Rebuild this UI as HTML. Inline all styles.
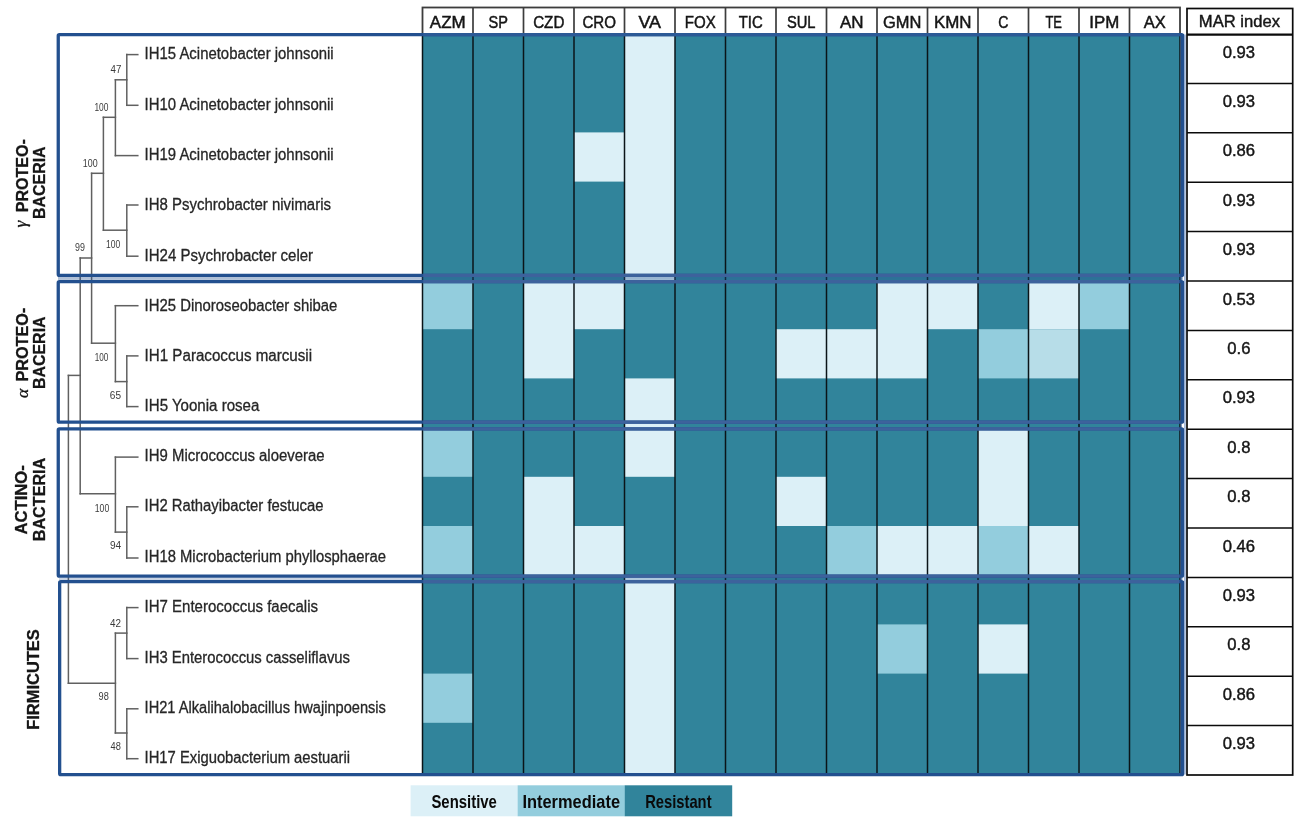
<!DOCTYPE html>
<html lang="en"><head><meta charset="utf-8"><title>Antibiotic resistance heatmap</title>
<style>html,body{margin:0;padding:0;background:#fff}body{width:1299px;height:820px;overflow:hidden;font-family:"Liberation Sans",Arial,sans-serif}</style>
</head><body>
<svg width="1299" height="820" viewBox="0 0 1299 820" style="display:block" font-family="'Liberation Sans', Arial, sans-serif">
<rect width="1299" height="820" fill="#fff"/>
<defs><filter id="soft" x="-2%" y="-2%" width="104%" height="104%"><feGaussianBlur stdDeviation="0.4"/></filter></defs>
<rect x="422.5" y="34.0" width="757.5" height="740.5" fill="#31849b"/>
<rect x="422.50" y="280.00" width="50.5" height="49.20" fill="#93cddd"/>
<rect x="422.50" y="427.60" width="50.5" height="49.20" fill="#93cddd"/>
<rect x="422.50" y="526.00" width="50.5" height="49.20" fill="#93cddd"/>
<rect x="422.50" y="673.60" width="50.5" height="49.20" fill="#93cddd"/>
<rect x="523.50" y="280.00" width="50.5" height="98.40" fill="#dcf0f7"/>
<rect x="523.50" y="476.80" width="50.5" height="98.40" fill="#dcf0f7"/>
<rect x="574.00" y="132.40" width="50.5" height="49.20" fill="#dcf0f7"/>
<rect x="574.00" y="280.00" width="50.5" height="49.20" fill="#dcf0f7"/>
<rect x="574.00" y="526.00" width="50.5" height="49.20" fill="#dcf0f7"/>
<rect x="624.50" y="34.00" width="50.5" height="246.00" fill="#dcf0f7"/>
<rect x="624.50" y="378.40" width="50.5" height="98.40" fill="#dcf0f7"/>
<rect x="624.50" y="575.20" width="50.5" height="199.30" fill="#dcf0f7"/>
<rect x="776.00" y="329.20" width="50.5" height="49.20" fill="#dcf0f7"/>
<rect x="776.00" y="476.80" width="50.5" height="49.20" fill="#dcf0f7"/>
<rect x="826.50" y="329.20" width="50.5" height="49.20" fill="#dcf0f7"/>
<rect x="826.50" y="526.00" width="50.5" height="49.20" fill="#93cddd"/>
<rect x="877.00" y="280.00" width="50.5" height="98.40" fill="#dcf0f7"/>
<rect x="877.00" y="526.00" width="50.5" height="49.20" fill="#dcf0f7"/>
<rect x="877.00" y="624.40" width="50.5" height="49.20" fill="#93cddd"/>
<rect x="927.50" y="280.00" width="50.5" height="49.20" fill="#dcf0f7"/>
<rect x="927.50" y="526.00" width="50.5" height="49.20" fill="#dcf0f7"/>
<rect x="978.00" y="329.20" width="50.5" height="49.20" fill="#93cddd"/>
<rect x="978.00" y="427.60" width="50.5" height="98.40" fill="#dcf0f7"/>
<rect x="978.00" y="526.00" width="50.5" height="49.20" fill="#93cddd"/>
<rect x="978.00" y="624.40" width="50.5" height="49.20" fill="#dcf0f7"/>
<rect x="1028.50" y="280.00" width="50.5" height="49.20" fill="#dcf0f7"/>
<rect x="1028.50" y="329.20" width="50.5" height="49.20" fill="#b7dde8"/>
<rect x="1028.50" y="526.00" width="50.5" height="49.20" fill="#dcf0f7"/>
<rect x="1079.00" y="280.00" width="50.5" height="49.20" fill="#93cddd"/>
<line x1="422.50" y1="34.0" x2="422.50" y2="774.50" stroke="#0b1418" stroke-width="1.5"/>
<line x1="473.00" y1="34.0" x2="473.00" y2="774.50" stroke="#0b1418" stroke-width="1.5"/>
<line x1="523.50" y1="34.0" x2="523.50" y2="774.50" stroke="#0b1418" stroke-width="1.5"/>
<line x1="574.00" y1="34.0" x2="574.00" y2="774.50" stroke="#0b1418" stroke-width="1.5"/>
<line x1="624.50" y1="34.0" x2="624.50" y2="774.50" stroke="#0b1418" stroke-width="1.5"/>
<line x1="675.00" y1="34.0" x2="675.00" y2="774.50" stroke="#0b1418" stroke-width="1.5"/>
<line x1="725.50" y1="34.0" x2="725.50" y2="774.50" stroke="#0b1418" stroke-width="1.5"/>
<line x1="776.00" y1="34.0" x2="776.00" y2="774.50" stroke="#0b1418" stroke-width="1.5"/>
<line x1="826.50" y1="34.0" x2="826.50" y2="774.50" stroke="#0b1418" stroke-width="1.5"/>
<line x1="877.00" y1="34.0" x2="877.00" y2="774.50" stroke="#0b1418" stroke-width="1.5"/>
<line x1="927.50" y1="34.0" x2="927.50" y2="774.50" stroke="#0b1418" stroke-width="1.5"/>
<line x1="978.00" y1="34.0" x2="978.00" y2="774.50" stroke="#0b1418" stroke-width="1.5"/>
<line x1="1028.50" y1="34.0" x2="1028.50" y2="774.50" stroke="#0b1418" stroke-width="1.5"/>
<line x1="1079.00" y1="34.0" x2="1079.00" y2="774.50" stroke="#0b1418" stroke-width="1.5"/>
<line x1="1129.50" y1="34.0" x2="1129.50" y2="774.50" stroke="#0b1418" stroke-width="1.5"/>
<line x1="1180.00" y1="34.0" x2="1180.00" y2="774.50" stroke="#0b1418" stroke-width="1.5"/>
<rect x="422.5" y="7.5" width="757.5" height="26.5" fill="#fff" stroke="#3d3d3d" stroke-width="1.8"/>
<line x1="473.00" y1="7.5" x2="473.00" y2="34" stroke="#3d3d3d" stroke-width="1.7"/>
<line x1="523.50" y1="7.5" x2="523.50" y2="34" stroke="#3d3d3d" stroke-width="1.7"/>
<line x1="574.00" y1="7.5" x2="574.00" y2="34" stroke="#3d3d3d" stroke-width="1.7"/>
<line x1="624.50" y1="7.5" x2="624.50" y2="34" stroke="#3d3d3d" stroke-width="1.7"/>
<line x1="675.00" y1="7.5" x2="675.00" y2="34" stroke="#3d3d3d" stroke-width="1.7"/>
<line x1="725.50" y1="7.5" x2="725.50" y2="34" stroke="#3d3d3d" stroke-width="1.7"/>
<line x1="776.00" y1="7.5" x2="776.00" y2="34" stroke="#3d3d3d" stroke-width="1.7"/>
<line x1="826.50" y1="7.5" x2="826.50" y2="34" stroke="#3d3d3d" stroke-width="1.7"/>
<line x1="877.00" y1="7.5" x2="877.00" y2="34" stroke="#3d3d3d" stroke-width="1.7"/>
<line x1="927.50" y1="7.5" x2="927.50" y2="34" stroke="#3d3d3d" stroke-width="1.7"/>
<line x1="978.00" y1="7.5" x2="978.00" y2="34" stroke="#3d3d3d" stroke-width="1.7"/>
<line x1="1028.50" y1="7.5" x2="1028.50" y2="34" stroke="#3d3d3d" stroke-width="1.7"/>
<line x1="1079.00" y1="7.5" x2="1079.00" y2="34" stroke="#3d3d3d" stroke-width="1.7"/>
<line x1="1129.50" y1="7.5" x2="1129.50" y2="34" stroke="#3d3d3d" stroke-width="1.7"/>
<g font-size="15.8" fill="#151515" stroke="#151515" stroke-width="0.45" text-anchor="middle">
<text x="447.75" y="27.6" textLength="35.8" lengthAdjust="spacingAndGlyphs">AZM</text>
<text x="498.25" y="27.6" textLength="19.4" lengthAdjust="spacingAndGlyphs">SP</text>
<text x="548.75" y="27.6" textLength="31.2" lengthAdjust="spacingAndGlyphs">CZD</text>
<text x="599.25" y="27.6" textLength="33.6" lengthAdjust="spacingAndGlyphs">CRO</text>
<text x="649.75" y="27.6" textLength="22.6" lengthAdjust="spacingAndGlyphs">VA</text>
<text x="700.25" y="27.6" textLength="31.0" lengthAdjust="spacingAndGlyphs">FOX</text>
<text x="750.75" y="27.6" textLength="24.0" lengthAdjust="spacingAndGlyphs">TIC</text>
<text x="801.25" y="27.6" textLength="28.6" lengthAdjust="spacingAndGlyphs">SUL</text>
<text x="851.75" y="27.6" textLength="23.6" lengthAdjust="spacingAndGlyphs">AN</text>
<text x="902.25" y="27.6" textLength="38.4" lengthAdjust="spacingAndGlyphs">GMN</text>
<text x="952.75" y="27.6" textLength="37.6" lengthAdjust="spacingAndGlyphs">KMN</text>
<text x="1003.25" y="27.6" textLength="10.2" lengthAdjust="spacingAndGlyphs">C</text>
<text x="1053.75" y="27.6" textLength="16.6" lengthAdjust="spacingAndGlyphs">TE</text>
<text x="1104.25" y="27.6" textLength="30.0" lengthAdjust="spacingAndGlyphs">IPM</text>
<text x="1154.75" y="27.6" textLength="22.0" lengthAdjust="spacingAndGlyphs">AX</text>
</g>
<rect x="1187.0" y="8.5" width="105.70000000000005" height="766.5" fill="#fff" stroke="#0a0a0a" stroke-width="1.7"/>
<line x1="1187.0" y1="34.7" x2="1292.7" y2="34.7" stroke="#0a0a0a" stroke-width="2.3"/>
<line x1="1187.0" y1="83.40" x2="1292.7" y2="83.40" stroke="#0a0a0a" stroke-width="1.5"/>
<line x1="1187.0" y1="132.80" x2="1292.7" y2="132.80" stroke="#0a0a0a" stroke-width="1.5"/>
<line x1="1187.0" y1="182.20" x2="1292.7" y2="182.20" stroke="#0a0a0a" stroke-width="1.5"/>
<line x1="1187.0" y1="231.60" x2="1292.7" y2="231.60" stroke="#0a0a0a" stroke-width="1.5"/>
<line x1="1187.0" y1="281.00" x2="1292.7" y2="281.00" stroke="#0a0a0a" stroke-width="1.5"/>
<line x1="1187.0" y1="330.40" x2="1292.7" y2="330.40" stroke="#0a0a0a" stroke-width="1.5"/>
<line x1="1187.0" y1="379.80" x2="1292.7" y2="379.80" stroke="#0a0a0a" stroke-width="1.5"/>
<line x1="1187.0" y1="429.20" x2="1292.7" y2="429.20" stroke="#0a0a0a" stroke-width="1.5"/>
<line x1="1187.0" y1="478.60" x2="1292.7" y2="478.60" stroke="#0a0a0a" stroke-width="1.5"/>
<line x1="1187.0" y1="528.00" x2="1292.7" y2="528.00" stroke="#0a0a0a" stroke-width="1.5"/>
<line x1="1187.0" y1="577.40" x2="1292.7" y2="577.40" stroke="#0a0a0a" stroke-width="1.5"/>
<line x1="1187.0" y1="626.80" x2="1292.7" y2="626.80" stroke="#0a0a0a" stroke-width="1.5"/>
<line x1="1187.0" y1="676.20" x2="1292.7" y2="676.20" stroke="#0a0a0a" stroke-width="1.5"/>
<line x1="1187.0" y1="725.60" x2="1292.7" y2="725.60" stroke="#0a0a0a" stroke-width="1.5"/>
<g font-size="15.8" fill="#151515" stroke="#151515" stroke-width="0.4" text-anchor="middle">
<text x="1239.4" y="26.9" textLength="81.2" lengthAdjust="spacingAndGlyphs">MAR index</text>
<text x="1238.9" y="57.50" textLength="32.4" lengthAdjust="spacingAndGlyphs">0.93</text>
<text x="1238.9" y="106.90" textLength="32.4" lengthAdjust="spacingAndGlyphs">0.93</text>
<text x="1238.9" y="156.30" textLength="32.4" lengthAdjust="spacingAndGlyphs">0.86</text>
<text x="1238.9" y="205.70" textLength="32.4" lengthAdjust="spacingAndGlyphs">0.93</text>
<text x="1238.9" y="255.10" textLength="32.4" lengthAdjust="spacingAndGlyphs">0.93</text>
<text x="1238.9" y="304.50" textLength="32.4" lengthAdjust="spacingAndGlyphs">0.53</text>
<text x="1238.9" y="353.90" textLength="23.2" lengthAdjust="spacingAndGlyphs">0.6</text>
<text x="1238.9" y="403.30" textLength="32.4" lengthAdjust="spacingAndGlyphs">0.93</text>
<text x="1238.9" y="452.70" textLength="23.2" lengthAdjust="spacingAndGlyphs">0.8</text>
<text x="1238.9" y="502.10" textLength="23.2" lengthAdjust="spacingAndGlyphs">0.8</text>
<text x="1238.9" y="551.50" textLength="32.4" lengthAdjust="spacingAndGlyphs">0.46</text>
<text x="1238.9" y="600.90" textLength="32.4" lengthAdjust="spacingAndGlyphs">0.93</text>
<text x="1238.9" y="650.30" textLength="23.2" lengthAdjust="spacingAndGlyphs">0.8</text>
<text x="1238.9" y="699.70" textLength="32.4" lengthAdjust="spacingAndGlyphs">0.86</text>
<text x="1238.9" y="749.10" textLength="32.4" lengthAdjust="spacingAndGlyphs">0.93</text>
</g>
<g filter="url(#soft)">
<g stroke="#606060" stroke-width="1.5" stroke-linecap="square" fill="none">
<line x1="126.8" y1="54.6" x2="126.8" y2="105.3"/>
<line x1="126.8" y1="54.6" x2="137.8" y2="54.6"/>
<line x1="126.8" y1="105.3" x2="137.8" y2="105.3"/>
<line x1="115.4" y1="79.8" x2="126.8" y2="79.8"/>
<line x1="115.4" y1="79.8" x2="115.4" y2="155.6"/>
<line x1="115.4" y1="155.6" x2="137.8" y2="155.6"/>
<line x1="103.4" y1="117.3" x2="115.4" y2="117.3"/>
<line x1="103.4" y1="117.3" x2="103.4" y2="230.2"/>
<line x1="103.4" y1="230.2" x2="126.8" y2="230.2"/>
<line x1="126.8" y1="205.0" x2="126.8" y2="256.2"/>
<line x1="126.8" y1="205.0" x2="137.8" y2="205.0"/>
<line x1="126.8" y1="256.2" x2="137.8" y2="256.2"/>
<line x1="91.6" y1="173.3" x2="103.4" y2="173.3"/>
<line x1="91.6" y1="173.3" x2="91.6" y2="343.2"/>
<line x1="80.2" y1="258.0" x2="91.6" y2="258.0"/>
<line x1="80.2" y1="258.0" x2="80.2" y2="493.8"/>
<line x1="91.6" y1="343.2" x2="115.4" y2="343.2"/>
<line x1="115.4" y1="305.7" x2="115.4" y2="381.6"/>
<line x1="115.4" y1="305.7" x2="137.8" y2="305.7"/>
<line x1="115.4" y1="381.6" x2="126.8" y2="381.6"/>
<line x1="126.8" y1="355.9" x2="126.8" y2="406.6"/>
<line x1="126.8" y1="355.9" x2="137.8" y2="355.9"/>
<line x1="126.8" y1="406.6" x2="137.8" y2="406.6"/>
<line x1="68.4" y1="375.4" x2="80.2" y2="375.4"/>
<line x1="68.4" y1="375.4" x2="68.4" y2="683.3"/>
<line x1="80.2" y1="493.8" x2="115.4" y2="493.8"/>
<line x1="115.4" y1="457.1" x2="115.4" y2="532.1"/>
<line x1="115.4" y1="457.1" x2="137.8" y2="457.1"/>
<line x1="115.4" y1="532.1" x2="126.8" y2="532.1"/>
<line x1="126.8" y1="506.8" x2="126.8" y2="558.0"/>
<line x1="126.8" y1="506.8" x2="137.8" y2="506.8"/>
<line x1="126.8" y1="558.0" x2="137.8" y2="558.0"/>
<line x1="68.4" y1="683.3" x2="115.4" y2="683.3"/>
<line x1="115.4" y1="633.1" x2="115.4" y2="733.0"/>
<line x1="115.4" y1="633.1" x2="126.8" y2="633.1"/>
<line x1="126.8" y1="607.6" x2="126.8" y2="658.6"/>
<line x1="126.8" y1="607.6" x2="137.8" y2="607.6"/>
<line x1="126.8" y1="658.6" x2="137.8" y2="658.6"/>
<line x1="115.4" y1="733.0" x2="126.8" y2="733.0"/>
<line x1="126.8" y1="708.8" x2="126.8" y2="758.7"/>
<line x1="126.8" y1="708.8" x2="137.8" y2="708.8"/>
<line x1="126.8" y1="758.7" x2="137.8" y2="758.7"/>
</g>
<g font-size="10" fill="#3a3a3a">
<text x="110.6" y="73" textLength="10.8" lengthAdjust="spacingAndGlyphs">47</text>
<text x="94.4" y="110.6" textLength="14.0" lengthAdjust="spacingAndGlyphs">100</text>
<text x="82.8" y="167.3" textLength="14.8" lengthAdjust="spacingAndGlyphs">100</text>
<text x="106.0" y="247.8" textLength="14.2" lengthAdjust="spacingAndGlyphs">100</text>
<text x="75.0" y="251.4" textLength="9.9" lengthAdjust="spacingAndGlyphs">99</text>
<text x="94.7" y="360.5" textLength="13.6" lengthAdjust="spacingAndGlyphs">100</text>
<text x="109.8" y="398.5" textLength="11.2" lengthAdjust="spacingAndGlyphs">65</text>
<text x="94.8" y="511.8" textLength="14.4" lengthAdjust="spacingAndGlyphs">100</text>
<text x="110.0" y="549.4" textLength="11.2" lengthAdjust="spacingAndGlyphs">94</text>
<text x="109.9" y="626.8" textLength="11.0" lengthAdjust="spacingAndGlyphs">42</text>
<text x="98.6" y="700.4" textLength="10.2" lengthAdjust="spacingAndGlyphs">98</text>
<text x="110.6" y="750.2" textLength="10.3" lengthAdjust="spacingAndGlyphs">48</text>
</g>
<g font-size="16" fill="#262626" stroke="#262626" stroke-width="0.3">
<text x="144.6" y="59.3" textLength="189.0" lengthAdjust="spacingAndGlyphs">IH15 Acinetobacter johnsonii</text>
<text x="144.6" y="109.7" textLength="189.0" lengthAdjust="spacingAndGlyphs">IH10 Acinetobacter johnsonii</text>
<text x="144.6" y="160.0" textLength="189.0" lengthAdjust="spacingAndGlyphs">IH19 Acinetobacter johnsonii</text>
<text x="144.6" y="210.0" textLength="186.4" lengthAdjust="spacingAndGlyphs">IH8 Psychrobacter nivimaris</text>
<text x="144.6" y="260.8" textLength="168.5" lengthAdjust="spacingAndGlyphs">IH24 Psychrobacter celer</text>
<text x="144.6" y="311.0" textLength="192.7" lengthAdjust="spacingAndGlyphs">IH25 Dinoroseobacter shibae</text>
<text x="144.6" y="360.7" textLength="167.5" lengthAdjust="spacingAndGlyphs">IH1 Paracoccus marcusii</text>
<text x="144.6" y="410.5" textLength="114.7" lengthAdjust="spacingAndGlyphs">IH5 Yoonia rosea</text>
<text x="144.6" y="461.0" textLength="180.0" lengthAdjust="spacingAndGlyphs">IH9 Micrococcus aloeverae</text>
<text x="144.6" y="511.4" textLength="178.9" lengthAdjust="spacingAndGlyphs">IH2 Rathayibacter festucae</text>
<text x="144.6" y="562.2" textLength="241.4" lengthAdjust="spacingAndGlyphs">IH18 Microbacterium phyllosphaerae</text>
<text x="144.6" y="612.4" textLength="173.4" lengthAdjust="spacingAndGlyphs">IH7 Enterococcus faecalis</text>
<text x="144.6" y="662.6" textLength="205.4" lengthAdjust="spacingAndGlyphs">IH3 Enterococcus casseliflavus</text>
<text x="144.6" y="712.9" textLength="241.3" lengthAdjust="spacingAndGlyphs">IH21 Alkalihalobacillus hwajinpoensis</text>
<text x="144.6" y="763.0" textLength="205.4" lengthAdjust="spacingAndGlyphs">IH17 Exiguobacterium aestuarii</text>
</g>
<g font-size="16" font-weight="bold" fill="#141414" stroke="#141414" stroke-width="0.3">
<text transform="translate(26.2,227.6) rotate(-90)" font-family="'Liberation Serif', serif" font-weight="normal" font-style="italic" font-size="17.5">γ</text>
<text transform="translate(27.6,212.3) rotate(-90)" textLength="73.1" lengthAdjust="spacingAndGlyphs">PROTEO-</text>
<text transform="translate(44.5,219.0) rotate(-90)" textLength="72.6" lengthAdjust="spacingAndGlyphs">BACERIA</text>
<text transform="translate(27.6,398.0) rotate(-90)" font-family="'Liberation Serif', serif" font-weight="normal" font-style="italic" font-size="17.5">α</text>
<text transform="translate(27.6,381.6) rotate(-90)" textLength="73.8" lengthAdjust="spacingAndGlyphs">PROTEO-</text>
<text transform="translate(45.3,389.1) rotate(-90)" textLength="72.7" lengthAdjust="spacingAndGlyphs">BACERIA</text>
<text transform="translate(27.0,534.6) rotate(-90)" textLength="69.4" lengthAdjust="spacingAndGlyphs">ACTINO-</text>
<text transform="translate(44.8,541.2) rotate(-90)" textLength="83.4" lengthAdjust="spacingAndGlyphs">BACTERIA</text>
<text transform="translate(38.9,729.8) rotate(-90)" textLength="100.6" lengthAdjust="spacingAndGlyphs">FIRMICUTES</text>
</g>
</g>
<rect x="58.25" y="34.65" width="1124.40" height="240.70" rx="1.2" fill="none" stroke="#23508f" stroke-width="3.3"/>
<rect x="58.25" y="281.55" width="1124.40" height="140.60" rx="1.2" fill="none" stroke="#23508f" stroke-width="3.3"/>
<rect x="58.25" y="428.95" width="1124.40" height="147.20" rx="1.2" fill="none" stroke="#23508f" stroke-width="3.3"/>
<rect x="59.65" y="581.65" width="1123.00" height="193.00" rx="1.2" fill="none" stroke="#23508f" stroke-width="3.3"/>
<line x1="423.2" y1="34.65" x2="1179.3" y2="34.65" stroke="#2c5a96" stroke-width="3.3"/>
<line x1="423.2" y1="275.35" x2="1179.3" y2="275.35" stroke="#3d629c" stroke-width="3.3"/>
<line x1="423.2" y1="281.55" x2="1179.3" y2="281.55" stroke="#3d629c" stroke-width="3.3"/>
<line x1="423.2" y1="422.15" x2="1179.3" y2="422.15" stroke="#3d629c" stroke-width="3.3"/>
<line x1="423.2" y1="428.95" x2="1179.3" y2="428.95" stroke="#3d629c" stroke-width="3.3"/>
<line x1="423.2" y1="576.15" x2="1179.3" y2="576.15" stroke="#3d629c" stroke-width="3.3"/>
<line x1="423.2" y1="581.65" x2="1179.3" y2="581.65" stroke="#3d629c" stroke-width="3.3"/>
<rect x="1180.6" y="34.5" width="1.0" height="740" fill="#23508f"/>
<rect x="1184.2" y="34.5" width="1.5" height="740" fill="#8aa3cc" opacity="0.9"/>
<rect x="58" y="277.0" width="1125" height="2.9" fill="#23508f" opacity="0.36"/>
<rect x="59" y="577.8" width="1124" height="2.2" fill="#23508f" opacity="0.25"/>
<rect x="410.60" y="785.3" width="107.39999999999999" height="31.0" fill="#dcf0f7"/>
<text x="464.15" y="807.7" font-size="18.5" font-weight="bold" fill="#0a0a0a" text-anchor="middle" textLength="65.4" lengthAdjust="spacingAndGlyphs">Sensitive</text>
<rect x="517.70" y="785.3" width="107.39999999999999" height="31.0" fill="#93cddd"/>
<text x="571.25" y="807.7" font-size="18.5" font-weight="bold" fill="#0a0a0a" text-anchor="middle" textLength="97.6" lengthAdjust="spacingAndGlyphs">Intermediate</text>
<rect x="624.80" y="785.3" width="107.39999999999999" height="31.0" fill="#31849b"/>
<text x="678.35" y="807.7" font-size="18.5" font-weight="bold" fill="#0a0a0a" text-anchor="middle" textLength="66.4" lengthAdjust="spacingAndGlyphs">Resistant</text>
</svg>
</body></html>
